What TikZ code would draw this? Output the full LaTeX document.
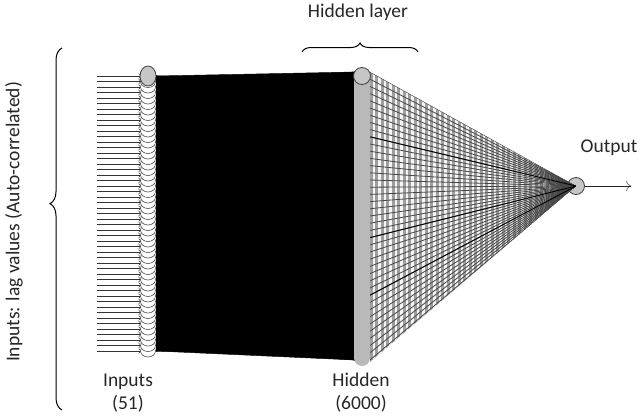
\documentclass[tikz,border=0pt]{standalone}
\usepackage{fontspec}
\setmainfont{Carlito}
\usepackage{tikz}
\usetikzlibrary{calc}
\usetikzlibrary{decorations.pathreplacing}
\usetikzlibrary{arrows.meta}

\tikzset{
  lab/.style={font=\fontsize{19.5}{23}\selectfont, text=black!85},
  inneuron/.style={fill=white, draw=gray!60!black, line width=0.6pt},
  toplayer/.style={fill=gray!45, draw=black!75, line width=0.8pt},
  wire/.style={line width=0.45pt},
  bracket/.style={decorate, line width=1pt},
}

\begin{document}
\begin{tikzpicture}[x=1pt,y=-1pt]
	\useasboundingbox (0,0) rectangle (640,418);
	% inputs and hidden layer points
	\foreach \i in {0,...,50} {
		\coordinate (a\i) at (97,{76+5.5*\i});
		\coordinate (in\i) at (141,{76+5.5*\i});
		\coordinate (ir\i) at (156,{76+5.5*\i});
	}
	\foreach \j in {0,...,40} {
		\coordinate (hl\j) at (355,{72+7.2*\j});
		\coordinate (hr\j) at (370,{72+7.2*\j});
	}
	\node[circle,minimum size=17pt,inner sep=0pt,toplayer] (out) at (576,186) {};
	\coordinate (outend) at (631,186);
	% inputs to hidden
	\fill[black] (ir0) -- (hl0) -- (hl40) -- (ir50) -- cycle;
	\foreach \i in {0,...,50}
		\foreach \j in {0,...,40}
			\draw[wire,black] (ir\i) -- (hl\j);
	% hidden to output
	\begin{scope}
		\clip (370,72) -- (out.center) -- (370,362) -- cycle;
		\fill[gray!75] (370,60) rectangle (580,370);
		\foreach \x in {374,379.5,...,580}
			\draw[white!92!gray,line width=2.3pt] (\x,60) -- (\x,370);
		\foreach \j in {0,...,40}
			\draw[line width=0.8pt,gray!55!black] (hr\j) -- (out.center);
		\foreach \j in {9,23,31}
			\draw[line width=0.9pt,black] (hr\j) -- (out.center);
	\end{scope}
	\fill[gray!55,rounded corners=8pt] (354,70) rectangle (370,366);
	\node[circle,minimum size=17pt,inner sep=0pt,toplayer] (htop) at (362,76) {};
	\draw[gray!30!black,-{To[length=5pt]}] (out) -- (outend);
	% input arrows and neurons
	\foreach \i in {0,...,50}
		\draw[wire,gray!40!black,-{To[length=2.5pt]}] (a\i) -- (in\i);
	\foreach \i in {50,...,1}
		\draw[inneuron] (148,{76+5.5*\i}) ellipse[x radius=7.5pt,y radius=6pt];
	\draw[toplayer] (148,76) ellipse[x radius=8pt,y radius=10pt];
	% labels
	\node[lab] (hidtitle) at (358,12) {Hidden layer};
	\draw[bracket,decoration={brace,amplitude=9pt}] (302,52) -- (418,52);
	\node[lab,rotate=90] (inlab) at (14,222) {Inputs: lag values (Auto-correlated)};
	\draw[bracket,decoration={brace,amplitude=12pt,aspect=0.57}] (62,410) -- (62,48);
	\node[lab] (outlab) at (609,148) {Output};
	\node[lab,align=center] (inname) at (128,393) {Inputs\\(51)};
	\node[lab,align=center] (hidname) at (361,393) {Hidden\\(6000)};
\end{tikzpicture}
\end{document}
